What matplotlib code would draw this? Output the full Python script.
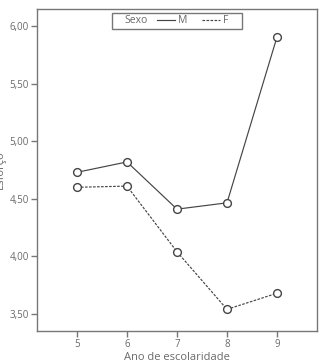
import matplotlib
matplotlib.use("Agg")
import matplotlib.pyplot as plt
from matplotlib.patches import Rectangle
from matplotlib.ticker import FuncFormatter

anos = [5, 6, 7, 8, 9]
esforco_m = [4.73, 4.82, 4.41, 4.465, 5.905]
esforco_f = [4.60, 4.61, 4.04, 3.54, 3.68]
yticks = [3.5, 4.0, 4.5, 5.0, 5.5, 6.0]

plt.rcParams['font.family'] = ['Open Sans', 'DejaVu Sans']
txt = '#6a6a6a'
ln = '#454545'

fig = plt.figure(figsize=(3.21, 3.6), dpi=100)
ax = fig.add_axes([37/321, 1-331/360, 280/321, 322/360])

kw = dict(marker='o', markersize=5.6, markerfacecolor='white', markeredgecolor=ln,
          markeredgewidth=1.0, color=ln, linewidth=0.85)
hm, = ax.plot(anos, esforco_m, linestyle='-', label='M', **kw)
hf, = ax.plot(anos, esforco_f, linestyle=(0, (2.2, 1.2)), label='F', **kw)

ax.set_xlim(4.2, 9.8)
ax.set_ylim(3.352, 6.148)
ax.set_xticks(anos)
ax.set_yticks(yticks)
ax.yaxis.set_major_formatter(FuncFormatter(lambda v, p: f"{v:.2f}".replace('.', ',')))
for s in ax.spines.values():
    s.set_color('#777777')
    s.set_linewidth(1.0)
ax.tick_params(direction='out', length=4, width=1.0, color='#777777',
               labelcolor=txt, labelsize=7, pad=2)

ax.set_xlabel('Ano de escolaridade', color=txt, fontsize=8, labelpad=2)
ax.set_ylabel('Esforço', color=txt, fontsize=8, labelpad=2)
ax.xaxis.set_label_coords(0.5, -0.064)
ax.yaxis.set_label_coords(-0.112, 0.5)

# legend frame and title
ax.add_patch(Rectangle((0.268, 0.938), 0.464, 0.050, transform=ax.transAxes,
                       facecolor='white', edgecolor='#777777', linewidth=1.0, zorder=5))
ax.text(0.314, 0.963, 'Sexo', transform=ax.transAxes, ha='left', va='center',
        color=txt, fontsize=7.5, zorder=6)
hm_l = plt.Line2D([], [], color=ln, linewidth=0.85, linestyle='-')
hf_l = plt.Line2D([], [], color=ln, linewidth=0.85, linestyle=(0, (2.2, 1.2)))
leg = ax.legend([hm_l, hf_l], ['M', 'F'], loc='center left', bbox_to_anchor=(0.43, 0.963),
                ncol=2, frameon=False, fontsize=7.5, handlelength=1.7, handletextpad=0.3,
                columnspacing=1.4, borderpad=0, borderaxespad=0, labelcolor=txt)
leg.set_zorder(7)

fig.savefig('out.png', dpi=100)
